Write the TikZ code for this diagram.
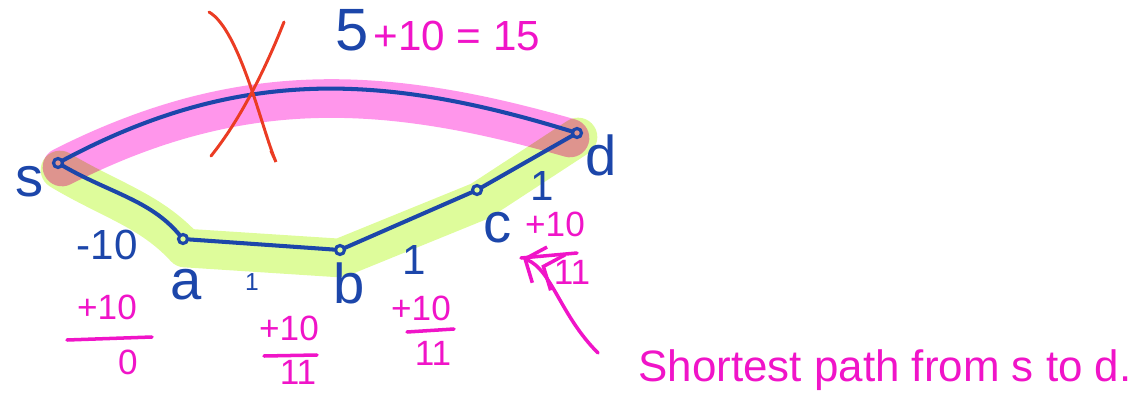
\documentclass[tikz,border=0pt]{standalone}
\usepackage{fontspec}
\setmainfont{Liberation Sans}
\usetikzlibrary{arrows.meta}
\definecolor{inkblue}{RGB}{28,70,170}
\definecolor{inkpink}{RGB}{240,20,200}
\definecolor{hlpink}{RGB}{255,150,235}
\definecolor{hlgreen}{RGB}{222,252,155}
\definecolor{inkred}{RGB}{235,60,35}
\begin{document}
\begin{tikzpicture}[
  x=0.02cm, y=-0.02cm,
  vertex/.style={circle, draw=inkblue, line width=1.8pt, inner sep=0pt,
                 minimum size=0.18cm},
  edge/.style={draw=inkblue, line width=2.3pt, line cap=round, line join=round},
  hl/.style={line width=22pt, line cap=round, line join=round},
  vlabel/.style={text=inkblue, font=\fontsize{32}{32}\selectfont},
  wlabel/.style={text=inkblue, font=\fontsize{24}{24}\selectfont},
  fix/.style={text=inkpink, font=\fontsize{20}{20}\selectfont},
  bar/.style={draw=inkpink, line width=2pt, line cap=round},
  cross/.style={draw=inkred, line width=1.7pt, line cap=round},
  arrow/.style={draw=inkpink, line width=2pt, line cap=round,
    -{Straight Barb[length=9pt,width=22pt] Straight Barb[length=9pt,width=22pt]}}
]
  \useasboundingbox (0,0) rectangle (1146,412);

  % highlighter strokes
  \begin{scope}[blend mode=multiply]
    \draw[hl, hlgreen] (60,170) .. controls (110,200) and (150,210) .. (185,248)
      -- (340,258) -- (480,201) -- (578,137);
    \draw[hl, hlpink] (62,167) .. controls (238,78) and (382,84) .. (570,138);
  \end{scope}

  % vertices
  \node[vertex] (s) at (58,163) {};
  \node[vertex] (a) at (183,239) {};
  \node[vertex] (b) at (340,250) {};
  \node[vertex] (c) at (477,190) {};
  \node[vertex] (d) at (577,133) {};

  \draw[edge] (s) .. controls (238,67) and (382,73) .. (d);
  \draw[edge] (s) .. controls (110,193) and (150,200) .. (a);
  \draw[edge] (a) -- (b) -- (c) -- (d);

  \node[vlabel] (ls) at (30,182) {s};
  \node[vlabel] (ld) at (601,155) {d};
  \node[vlabel] (la) at (186,285) {a};
  \node[vlabel] (lb) at (349,283) {b};
  \node[vlabel] (lc) at (498,228) {c};

  \node[wlabel] (wsa) at (107,245) {-10};
  \node[wlabel, font=\fontsize{14}{14}\selectfont] (wab) at (252,282) {1};
  \node[wlabel] (wbc) at (414,260) {1};
  \node[wlabel] (wcd) at (542,186) {1};
  \node[wlabel, font=\fontsize{34}{34}\selectfont] (wsd) at (352,30) {5};

  % crossed out
  \draw[cross] (209,12) .. controls (240,30) and (262,130) .. (276,162) -- (271,151);
  \draw[cross] (284,22) .. controls (265,70) and (240,120) .. (211,156);

  % reweighted edges
  \node[fix, font=\fontsize{24}{24}\selectfont] (top) at (457,36) {+10 = 15};
  \node[fix] (pa) at (107,307) {+10};
  \draw[bar] (67,340) -- (152,337);
  \node[fix] (ra) at (128,362) {0};
  \node[fix] (pb) at (289,328) {+10};
  \draw[bar] (264,356) -- (317,355);
  \node[fix] (rb) at (298,372) {11};
  \node[fix] (pc) at (421,308) {+10};
  \draw[bar] (407,332) -- (454,329);
  \node[fix] (rc) at (433,353) {11};
  \node[fix] (pd) at (555,224) {+10};
  \draw[bar] (521,258) -- (577,253);
  \node[fix] (rd) at (572,272) {11};

  \node[text=inkpink, font=\fontsize{25}{25}\selectfont] (note) at (885,370)
    {Shortest path from s to d.};
  \coordinate (tail) at (598,353);
  \coordinate (tip) at (523,258);
  \draw[arrow] (tail) .. controls (560,315) and (552,270) .. (tip);
\end{tikzpicture}
\end{document}
